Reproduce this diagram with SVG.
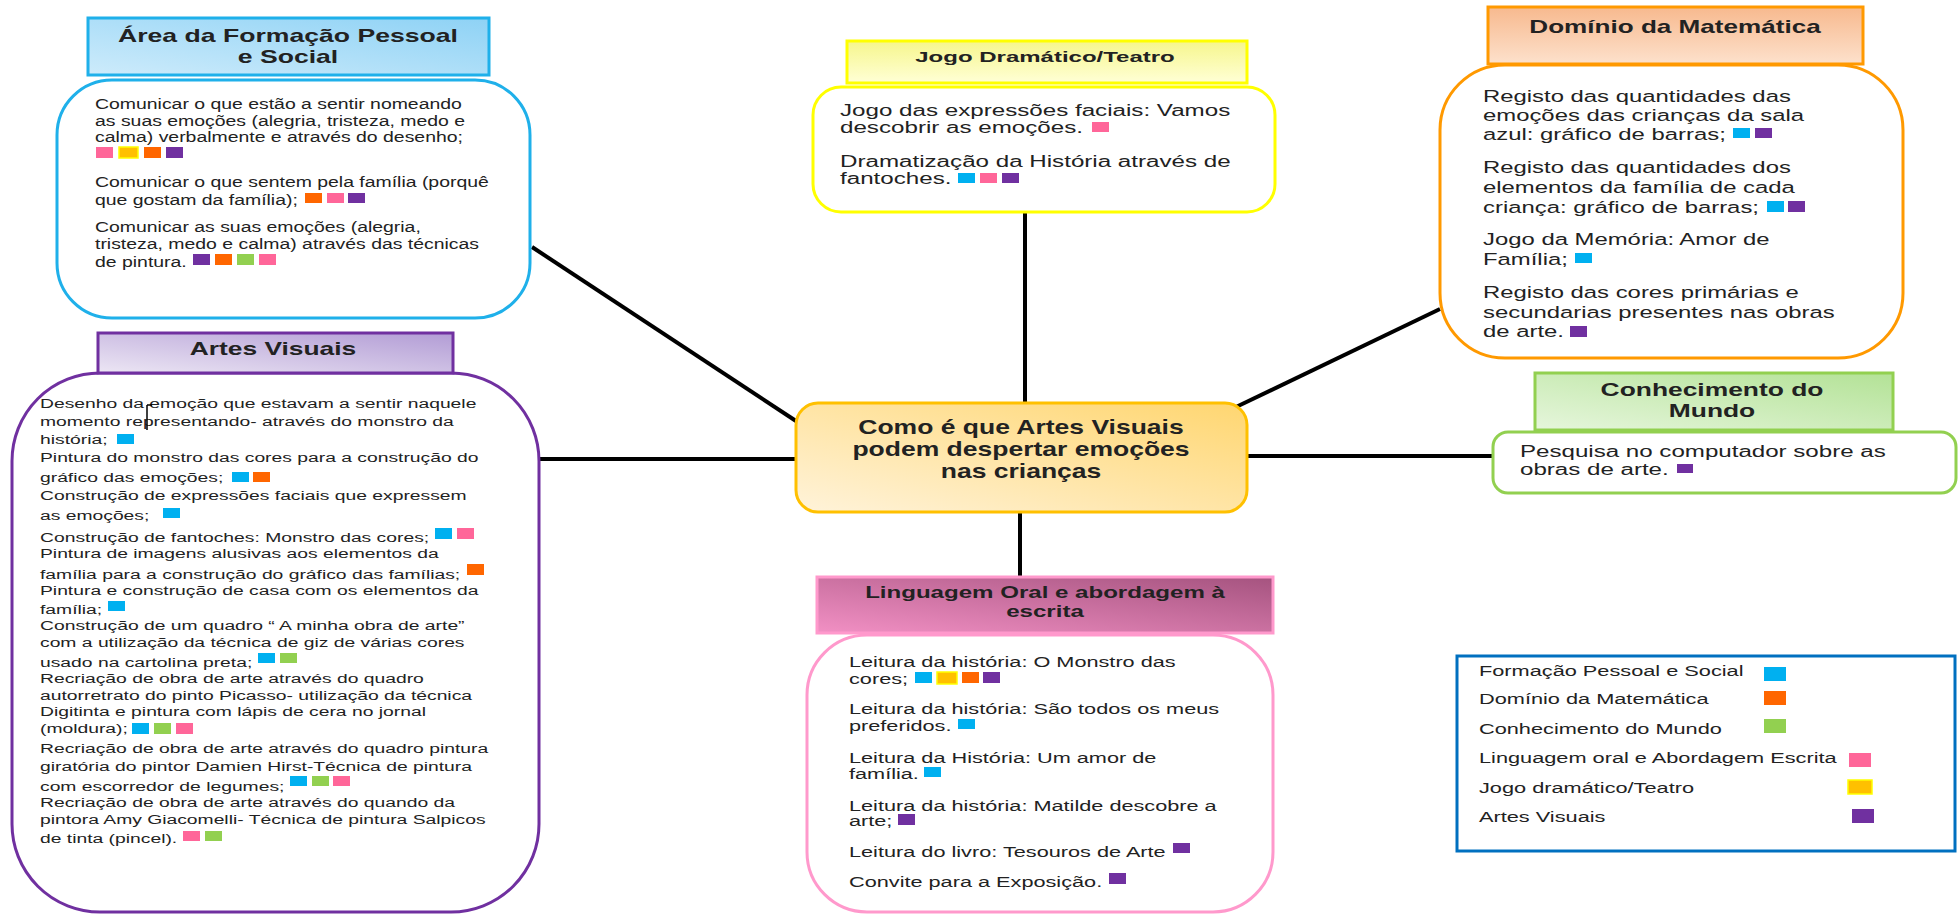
<svg xmlns="http://www.w3.org/2000/svg" width="1958" height="915" viewBox="0 0 1958 915">
<defs>
<linearGradient id="gFPS" x1="0" y1="1" x2="1" y2="0"><stop offset="0" stop-color="#CDEBFB"/><stop offset="1" stop-color="#8ED2F5"/></linearGradient>
<linearGradient id="gJD" x1="0" y1="0" x2="0" y2="1"><stop offset="0" stop-color="#F6F68C"/><stop offset="1" stop-color="#FFFFD6"/></linearGradient>
<linearGradient id="gMA" x1="0" y1="0" x2="0" y2="1"><stop offset="0" stop-color="#F7B98E"/><stop offset="1" stop-color="#FDE1CC"/></linearGradient>
<linearGradient id="gCM" x1="0" y1="1" x2="1" y2="0"><stop offset="0" stop-color="#E6F6DC"/><stop offset="1" stop-color="#B3E296"/></linearGradient>
<linearGradient id="gLO" x1="0" y1="1" x2="1" y2="0"><stop offset="0" stop-color="#F290C4"/><stop offset="1" stop-color="#A5537F"/></linearGradient>
<linearGradient id="gAV" x1="0" y1="1" x2="1" y2="0"><stop offset="0" stop-color="#ECE6F4"/><stop offset="1" stop-color="#B29CD5"/></linearGradient>
<linearGradient id="gC" x1="0" y1="1" x2="1" y2="0"><stop offset="0" stop-color="#FFF3DA"/><stop offset="1" stop-color="#FFD670"/></linearGradient>
</defs>
<style>
text { font-family: "Liberation Sans", Arial, sans-serif; fill: #222; }
.b { font-weight: bold; }
.conn line { stroke: #000; stroke-width: 4; }
.box { fill: #fff; stroke-width: 3; }
.hd { stroke-width: 3; }
.sc { fill: #00B0F0; }
.so { fill: #FF6600; }
.sg { fill: #92D050; }
.sp { fill: #FF6699; }
.sv { fill: #7030A0; }
.sy { fill: #FFC000; stroke: #FFFF00; stroke-width: 1.5; }
</style>
<rect width="1958" height="915" fill="#fff"/>

<g class="conn" id="connectors">
<line x1="532" y1="247" x2="796" y2="421"/>
<line x1="539" y1="459" x2="797" y2="459"/>
<line x1="1025" y1="212" x2="1025" y2="404"/>
<line x1="1236" y1="407" x2="1440" y2="309"/>
<line x1="1248" y1="456" x2="1494" y2="456"/>
<line x1="1020" y1="512" x2="1020" y2="578"/>
</g>

<g id="center">
<rect x="796" y="403" width="451" height="109" rx="22" fill="url(#gC)" stroke="#FFC000" stroke-width="3"/>
<g transform="translate(1021,0) scale(1.325,1)" class="b" font-size="20" text-anchor="middle">
<text y="434">Como é que Artes Visuais</text>
<text y="456">podem despertar emoções</text>
<text y="478">nas crianças</text>
</g>
</g>

<g id="fps">
<rect class="box" x="57" y="80" width="473" height="238" rx="55" stroke="#1FB0EA"/>
<rect class="hd" x="88" y="18" width="401" height="57" fill="url(#gFPS)" stroke="#1FB0EA"/>
<g transform="translate(288,0) scale(1.40,1)" class="b" font-size="19" text-anchor="middle">
<text y="42">Área da Formação Pessoal</text>
<text y="63">e Social</text>
</g>
<g transform="translate(95,0) scale(1.34,1)" font-size="14.5">
<text y="109">Comunicar o que estão a sentir nomeando</text>
<text y="126">as suas emoções (alegria, tristeza, medo e</text>
<text y="142">calma) verbalmente e através do desenho;</text>
<text y="187">Comunicar o que sentem pela família (porquê</text>
<text y="205">que gostam da família);</text>
<text y="232">Comunicar as suas emoções (alegria,</text>
<text y="249">tristeza, medo e calma) através das técnicas</text>
<text y="267">de pintura.</text>
</g>
<rect class="sp" x="96" y="147" width="17" height="11"/>
<rect class="sy" x="119" y="147" width="19" height="11"/>
<rect class="so" x="144" y="147" width="17" height="11"/>
<rect class="sv" x="166" y="147" width="17" height="11"/>
<rect class="so" x="305" y="193" width="17" height="10"/>
<rect class="sp" x="327" y="193" width="17" height="10"/>
<rect class="sv" x="348" y="193" width="17" height="10"/>
<rect class="sv" x="193" y="254" width="17" height="11"/>
<rect class="so" x="215" y="254" width="17" height="11"/>
<rect class="sg" x="237" y="254" width="17" height="11"/>
<rect class="sp" x="259" y="254" width="17" height="11"/>
</g>

<g id="av">
<rect class="box" x="12" y="373" width="527" height="539" rx="88" stroke="#7030A0"/>
<rect class="hd" x="98" y="333" width="355" height="40" fill="url(#gAV)" stroke="#7030A0"/>
<g transform="translate(273,0) scale(1.465,1)" class="b" font-size="18" text-anchor="middle">
<text y="355">Artes Visuais</text>
</g>
<g transform="translate(40,0) scale(1.43,1)" font-size="13.5">
<text y="408">Desenho da emoção que estavam a sentir naquele</text>
<text y="426">momento representando- através do monstro da</text>
<text y="444">história;</text>
<text y="462">Pintura do monstro das cores para a construção do</text>
<text y="482">gráfico das emoções;</text>
<text y="500">Construção de expressões faciais que expressem</text>
<text y="520">as emoções;</text>
<text y="542">Construção de fantoches: Monstro das cores;</text>
<text y="558">Pintura de imagens alusivas aos elementos da</text>
<text y="579">família para a construção do gráfico das famílias;</text>
<text y="595">Pintura e construção de casa com os elementos da</text>
<text y="614">família;</text>
<text y="630">Construção de um quadro “ A minha obra de arte”</text>
<text y="647">com a utilização da técnica de giz de várias cores</text>
<text y="667">usado na cartolina preta;</text>
<text y="683">Recriação de obra de arte através do quadro</text>
<text y="700">autorretrato do pinto Picasso- utilização da técnica</text>
<text y="716">Digitinta e pintura com lápis de cera no jornal</text>
<text y="733">(moldura);</text>
<text y="753">Recriação de obra de arte através do quadro pintura</text>
<text y="771">giratória do pintor Damien Hirst-Técnica de pintura</text>
<text y="791">com escorredor de legumes;</text>
<text y="807">Recriação de obra de arte através do quando da</text>
<text y="824">pintora Amy Giacomelli- Técnica de pintura Salpicos</text>
<text y="843">de tinta (pincel).</text>
</g>
<path d="M147,405 V430 M147,405 h5" stroke="#000" stroke-width="1.5" fill="none"/>
<rect class="sc" x="117" y="434" width="17" height="10"/>
<rect class="sc" x="232" y="472" width="17" height="10"/>
<rect class="so" x="253" y="472" width="17" height="10"/>
<rect class="sc" x="163" y="508" width="17" height="10"/>
<rect class="sc" x="435" y="528" width="17" height="11"/>
<rect class="sp" x="457" y="528" width="17" height="11"/>
<rect class="so" x="467" y="564" width="17" height="11"/>
<rect class="sc" x="108" y="601" width="17" height="10"/>
<rect class="sc" x="258" y="653" width="17" height="10"/>
<rect class="sg" x="280" y="653" width="17" height="10"/>
<rect class="sc" x="132" y="723" width="17" height="11"/>
<rect class="sg" x="154" y="723" width="17" height="11"/>
<rect class="sp" x="176" y="723" width="17" height="11"/>
<rect class="sc" x="290" y="776" width="17" height="10"/>
<rect class="sg" x="312" y="776" width="17" height="10"/>
<rect class="sp" x="333" y="776" width="17" height="10"/>
<rect class="sp" x="183" y="831" width="17" height="10"/>
<rect class="sg" x="205" y="831" width="17" height="10"/>
</g>

<g id="jogo">
<rect class="box" x="813" y="87" width="462" height="125" rx="28" stroke="#FFFF00"/>
<rect class="hd" x="847" y="41" width="400" height="42" fill="url(#gJD)" stroke="#FFFF00"/>
<g transform="translate(1045,0) scale(1.6,1)" class="b" font-size="15" text-anchor="middle">
<text y="62">Jogo Dramático/Teatro</text>
</g>
<g transform="translate(840,0) scale(1.51,1)" font-size="16">
<text y="116">Jogo das expressões faciais: Vamos</text>
<text y="133">descobrir as emoções.</text>
<text y="167">Dramatização da História através de</text>
<text y="184">fantoches.</text>
</g>
<rect class="sp" x="1092" y="122" width="17" height="10"/>
<rect class="sc" x="958" y="173" width="17" height="10"/>
<rect class="sp" x="980" y="173" width="17" height="10"/>
<rect class="sv" x="1002" y="173" width="17" height="10"/>
</g>

<g id="mat">
<rect class="box" x="1440" y="65" width="463" height="293" rx="65" stroke="#FF9900"/>
<rect class="hd" x="1488" y="7" width="375" height="57" fill="url(#gMA)" stroke="#FF9900"/>
<g transform="translate(1675,0) scale(1.45,1)" class="b" font-size="18" text-anchor="middle">
<text y="33">Domínio da Matemática</text>
</g>
<g transform="translate(1483,0) scale(1.447,1)" font-size="16.5">
<text y="102">Registo das quantidades das</text>
<text y="121">emoções das crianças da sala</text>
<text y="140">azul: gráfico de barras;</text>
<text y="173">Registo das quantidades dos</text>
<text y="193">elementos da família de cada</text>
<text y="213">criança: gráfico de barras;</text>
<text y="245">Jogo da Memória: Amor de</text>
<text y="265">Família;</text>
<text y="298">Registo das cores primárias e</text>
<text y="318">secundarias presentes nas obras</text>
<text y="337">de arte.</text>
</g>
<rect class="sc" x="1733" y="128" width="17" height="10"/>
<rect class="sv" x="1755" y="128" width="17" height="10"/>
<rect class="sc" x="1767" y="201" width="17" height="11"/>
<rect class="sv" x="1788" y="201" width="17" height="11"/>
<rect class="sc" x="1575" y="253" width="17" height="10"/>
<rect class="sv" x="1570" y="326" width="17" height="11"/>
</g>

<g id="cm">
<rect class="box" x="1493" y="432" width="463" height="61" rx="15" stroke="#92D050"/>
<rect class="hd" x="1535" y="373" width="358" height="57" fill="url(#gCM)" stroke="#92D050"/>
<g transform="translate(1712,0) scale(1.467,1)" class="b" font-size="18" text-anchor="middle">
<text y="396">Conhecimento do</text>
<text y="417">Mundo</text>
</g>
<g transform="translate(1520,0) scale(1.507,1)" font-size="16">
<text y="457">Pesquisa no computador sobre as</text>
<text y="475">obras de arte.</text>
</g>
<rect class="sv" x="1677" y="464" width="16" height="9"/>
</g>

<g id="lo">
<rect class="box" x="807" y="635" width="466" height="277" rx="60" stroke="#FF99CC"/>
<rect class="hd" x="817" y="577" width="456" height="56" fill="url(#gLO)" stroke="#FF99CC"/>
<g transform="translate(1045,0) scale(1.46,1)" class="b" font-size="16.5" text-anchor="middle">
<text y="598">Linguagem Oral e abordagem à</text>
<text y="617">escrita</text>
</g>
<g transform="translate(849,0) scale(1.447,1)" font-size="15">
<text y="667">Leitura da história: O Monstro das</text>
<text y="684">cores;</text>
<text y="714">Leitura da história: São todos os meus</text>
<text y="731">preferidos.</text>
<text y="763">Leitura da História: Um amor de</text>
<text y="779">família.</text>
<text y="811">Leitura da história: Matilde descobre a</text>
<text y="826">arte;</text>
<text y="857">Leitura do livro: Tesouros de Arte</text>
<text y="887">Convite para a Exposição.</text>
</g>
<rect class="sc" x="915" y="672" width="17" height="11"/>
<rect class="sy" x="937" y="672" width="20" height="12"/>
<rect class="so" x="962" y="672" width="17" height="11"/>
<rect class="sv" x="983" y="672" width="17" height="11"/>
<rect class="sc" x="958" y="719" width="17" height="10"/>
<rect class="sc" x="924" y="767" width="17" height="10"/>
<rect class="sv" x="898" y="814" width="17" height="11"/>
<rect class="sv" x="1173" y="843" width="17" height="10"/>
<rect class="sv" x="1109" y="873" width="17" height="11"/>
</g>

<g id="legend">
<rect x="1457" y="656" width="498" height="195" fill="#fff" stroke="#0070C0" stroke-width="3"/>
<g transform="translate(1479,0) scale(1.5,1)" font-size="14.5">
<text y="676">Formação Pessoal e Social</text>
<text y="704">Domínio da Matemática</text>
<text y="734">Conhecimento do Mundo</text>
<text y="763">Linguagem oral e Abordagem Escrita</text>
<text y="793">Jogo dramático/Teatro</text>
<text y="822">Artes Visuais</text>
</g>
<rect class="sc" x="1764" y="667" width="22" height="14"/>
<rect class="so" x="1764" y="691" width="22" height="14"/>
<rect class="sg" x="1764" y="719" width="22" height="14"/>
<rect class="sp" x="1849" y="753" width="22" height="14"/>
<rect class="sy" x="1848" y="780" width="24" height="14"/>
<rect class="sv" x="1852" y="809" width="22" height="14"/>
</g>
</svg>
